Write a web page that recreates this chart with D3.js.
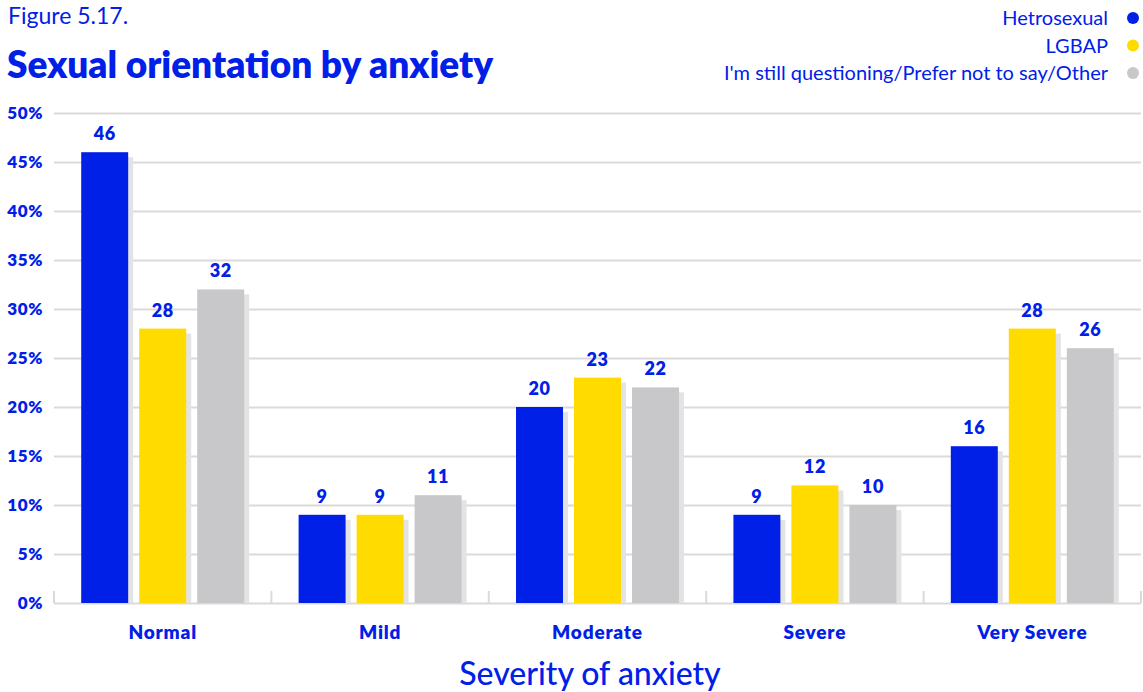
<!DOCTYPE html>
<html>
<head>
<meta charset="utf-8">
<script src="https://cdn.jsdelivr.net/npm/d3@7"></script>
<style>
  body { margin: 0; background: #fff; }
  text { font-family: Lato, "Noto Sans", sans-serif; }
</style>
</head>
<body>
<div class="chart"></div>
<script>
// Data.
const categories = ["Normal", "Mild", "Moderate", "Severe", "Very Severe"];
const seriesNames = ["Hetrosexual", "LGBAP", "I'm still questioning/Prefer not to say/Other"];
const hetrosexual = [46, 9, 20, 9, 16];
const lgbap = [28, 9, 23, 12, 28];
const other = [32, 11, 22, 10, 26];
const yTicks = [0, 5, 10, 15, 20, 25, 30, 35, 40, 45, 50];

const seriesValues = [hetrosexual, lgbap, other];
const colors = ["#0020e8", "#ffdb00", "#c8c8ca"];
const blue = "#0020e8";

const rows = categories.map((c, i) => ({
  category: c,
  values: seriesNames.map((s, j) => ({ key: s, value: seriesValues[j][i], color: colors[j] })),
}));

// Sizes.
const W = 1143, H = 692;
const plot = { left: 54, right: 1141, top: 113, bottom: 603 };

const svg = d3.select(".chart").append("svg")
  .attr("width", W)
  .attr("height", H);

// Scales.
const x0 = d3.scaleBand().domain(categories).range([plot.left, plot.right]).padding(0);
const x1 = d3.scaleBand().domain(seriesNames).range([0, x0.bandwidth()])
  .paddingInner(0.19).paddingOuter(0.469);
const y = d3.scaleLinear().domain([0, 50]).range([plot.bottom, plot.top]);

// Gridlines.
const yAxis = d3.axisLeft(y).tickValues(yTicks)
  .tickSize(-(plot.right - plot.left))
  .tickFormat((d) => d + "%");

const yAxisDraw = svg.append("g")
  .attr("class", "y axis")
  .attr("transform", `translate(${plot.left},0)`)
  .call(yAxis);
yAxisDraw.select(".domain").remove();
yAxisDraw.selectAll("line").attr("stroke", "#dadada").attr("stroke-width", 2);
yAxisDraw.selectAll("text")
  .attr("x", -11)
  .attr("fill", blue)
  .style("font-size", "17px")
  .style("letter-spacing", "0.6px")
  .style("font-weight", 800);

// Category separators on the baseline.
const seps = d3.range(categories.length + 1).map((i) => i === categories.length ? plot.right : x0(categories[i]));
svg.append("g").selectAll("line")
  .data(seps)
  .join("line")
  .attr("x1", (d) => d).attr("x2", (d) => d)
  .attr("y1", plot.bottom - 12).attr("y2", plot.bottom)
  .attr("stroke", "#dadada").attr("stroke-width", 2);

// Bars.
const groups = svg.append("g").selectAll("g")
  .data(rows)
  .join("g")
  .attr("transform", (d) => `translate(${x0(d.category)},0)`);

// Drop shadows.
groups.selectAll(".shadow")
  .data((d) => d.values)
  .join("rect")
  .attr("class", "shadow")
  .attr("x", (d) => x1(d.key) + 5)
  .attr("y", (d) => y(d.value) + 5)
  .attr("width", x1.bandwidth())
  .attr("height", (d) => plot.bottom - y(d.value) - 5)
  .attr("fill", "#e3e3e3");

groups.selectAll(".bar")
  .data((d) => d.values)
  .join("rect")
  .attr("class", "bar")
  .attr("x", (d) => x1(d.key))
  .attr("y", (d) => y(d.value))
  .attr("width", x1.bandwidth())
  .attr("height", (d) => plot.bottom - y(d.value))
  .attr("fill", (d) => d.color);

groups.selectAll(".val")
  .data((d) => d.values)
  .join("text")
  .attr("class", "val")
  .attr("x", (d) => x1(d.key) + x1.bandwidth() / 2)
  .attr("y", (d) => y(d.value) - 12)
  .attr("text-anchor", "middle")
  .attr("fill", blue)
  .style("font-size", "18px")
  .style("letter-spacing", "0.6px")
  .style("font-weight", 800)
  .text((d) => d.value);

// Category labels.
svg.append("g").selectAll("text")
  .data(categories)
  .join("text")
  .attr("x", (d) => x0(d) + x0.bandwidth() / 2)
  .attr("y", 639)
  .attr("text-anchor", "middle")
  .attr("fill", blue)
  .style("font-size", "19px")
  .style("letter-spacing", "0.8px")
  .style("font-weight", 800)
  .text((d) => d);

// Axis title.
svg.append("text")
  .attr("x", 590)
  .attr("y", 685)
  .attr("text-anchor", "middle")
  .attr("fill", blue)
  .style("font-size", "32px")
  .style("font-weight", 500)
  .text("Severity of anxiety");

// Header.
svg.append("text")
  .attr("x", 8).attr("y", 24)
  .attr("fill", blue)
  .style("font-size", "23px")
  .text("Figure 5.17.");

svg.append("text")
  .attr("x", 7).attr("y", 78)
  .attr("fill", blue)
  .style("font-size", "37px")
  .style("font-weight", 800)
  .text("Sexual orientation by anxiety");

// Legend.
const legend = svg.append("g").attr("class", "legend");
const legendRows = legend.selectAll("g")
  .data(seriesNames)
  .join("g")
  .attr("transform", (d, i) => `translate(0, ${18 + i * 27.5})`);
legendRows.append("text")
  .attr("x", 1108)
  .attr("dy", "0.35em")
  .attr("text-anchor", "end")
  .attr("fill", blue)
  .style("font-size", "20px")
  .text((d) => d);
legendRows.append("circle")
  .attr("cx", 1133)
  .attr("r", 6)
  .attr("fill", (d, i) => colors[i]);
</script>
</body>
</html>
